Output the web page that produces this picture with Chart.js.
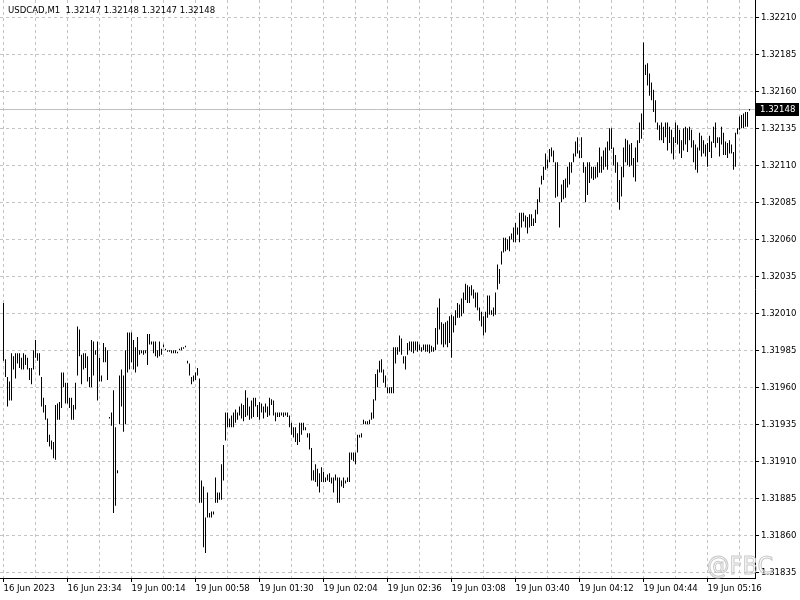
<!DOCTYPE html>
<html>
<head>
<meta charset="UTF-8">
<title>USDCAD,M1</title>
<script src="https://cdn.jsdelivr.net/npm/chart.js"></script>
<style>
  html, body { margin: 0; padding: 0; background: #fff; }
  canvas { display: block; }
</style>
</head>
<body>
<canvas id="chart" width="800" height="600"></canvas>
<script>
// header / last quote
const symbol = 'USDCAD,M1';
const headerQuote = [1.32147, 1.32148, 1.32147, 1.32148];
const lastPrice = 1.32148;

// x axis labels, one every 32 one-minute bars
const timeLabels = ['16 Jun 2023', '16 Jun 23:34', '19 Jun 00:14', '19 Jun 00:58', '19 Jun 01:30', '19 Jun 02:04',
  '19 Jun 02:36', '19 Jun 03:08', '19 Jun 03:40', '19 Jun 04:12', '19 Jun 04:44', '19 Jun 05:16'];

// price scale labels
const priceTicks = [1.31835, 1.31860, 1.31885, 1.31910, 1.31935, 1.31960, 1.31985, 1.32010,
  1.32035, 1.32060, 1.32085, 1.32110, 1.32135, 1.32160, 1.32185, 1.32210];

// bar highs
const highs = [
  1.32017,1.31979,1.31967,1.31964,1.31983,1.31981,1.31983,1.31983,1.31983,1.31980,1.31983,1.31982,1.31980,1.31973,1.31973,1.31985,
  1.31992,1.31983,1.31983,1.31967,1.31953,1.31948,1.31939,1.31928,1.31924,1.31923,1.31948,1.31949,1.31950,1.31970,1.31970,1.31963,
  1.31963,1.31953,1.31953,1.31948,1.31963,1.32001,1.31999,1.31982,1.31983,1.31983,1.31981,1.31967,1.31992,1.31991,1.31985,1.31991,
  1.31980,1.31968,1.31990,1.31987,1.31985,1.31940,1.31943,1.31958,1.31933,1.31904,1.31968,1.31972,1.31968,1.31985,1.31997,1.31997,
  1.31997,1.31992,1.31987,1.31994,1.31985,1.31985,1.31985,1.31985,1.31996,1.31996,1.31991,1.31991,1.31991,1.31985,1.31991,1.31986,
  1.31989,1.31986,1.31985,1.31985,1.31985,1.31985,1.31985,1.31984,1.31986,1.31987,1.31987,1.31988,1.31978,1.31976,1.31967,1.31968,
  1.31970,1.31973,1.31966,1.31897,1.31893,1.31872,1.31889,1.31875,1.31876,1.31876,1.31899,1.31889,1.31889,1.31908,1.31921,1.31943,
  1.31943,1.31939,1.31941,1.31943,1.31945,1.31943,1.31947,1.31949,1.31948,1.31958,1.31953,1.31947,1.31951,1.31953,1.31953,1.31948,
  1.31950,1.31949,1.31947,1.31949,1.31947,1.31953,1.31952,1.31951,1.31943,1.31943,1.31943,1.31943,1.31943,1.31943,1.31943,1.31941,
  1.31936,1.31933,1.31933,1.31929,1.31936,1.31936,1.31936,1.31933,1.31929,1.31929,1.31919,1.31904,1.31908,1.31905,1.31902,1.31906,
  1.31903,1.31899,1.31901,1.31902,1.31899,1.31899,1.31901,1.31899,1.31899,1.31897,1.31899,1.31897,1.31899,1.31916,1.31916,1.31916,
  1.31916,1.31928,1.31928,1.31929,1.31938,1.31937,1.31937,1.31938,1.31943,1.31952,1.31969,1.31972,1.31978,1.31979,1.31972,1.31968,
  1.31960,1.31960,1.31960,1.31987,1.31987,1.31987,1.31995,1.31993,1.31981,1.31981,1.31990,1.31991,1.31991,1.31991,1.31991,1.31991,
  1.31989,1.31987,1.31989,1.31989,1.31989,1.31989,1.31988,1.31987,1.32000,1.32014,1.32020,1.32004,1.32003,1.32004,1.32005,1.32008,
  1.32009,1.32008,1.32012,1.32017,1.32016,1.32020,1.32024,1.32030,1.32029,1.32028,1.32029,1.32026,1.32024,1.32024,1.32014,1.32011,
  1.32008,1.32011,1.32022,1.32022,1.32012,1.32014,1.32024,1.32043,1.32040,1.32052,1.32061,1.32061,1.32060,1.32062,1.32064,1.32068,
  1.32071,1.32068,1.32078,1.32078,1.32078,1.32076,1.32075,1.32077,1.32077,1.32074,1.32080,1.32087,1.32095,1.32103,1.32109,1.32118,
  1.32114,1.32121,1.32122,1.32120,1.32112,1.32112,1.32085,1.32097,1.32100,1.32101,1.32109,1.32112,1.32112,1.32118,1.32126,1.32129,
  1.32120,1.32129,1.32112,1.32109,1.32112,1.32112,1.32109,1.32109,1.32109,1.32112,1.32122,1.32116,1.32120,1.32122,1.32126,1.32135,
  1.32135,1.32122,1.32117,1.32112,1.32100,1.32109,1.32122,1.32128,1.32127,1.32124,1.32125,1.32115,1.32122,1.32127,1.32139,1.32145,
  1.32193,1.32178,1.32179,1.32172,1.32166,1.32161,1.32154,1.32139,1.32137,1.32139,1.32136,1.32139,1.32139,1.32136,1.32134,1.32129,
  1.32139,1.32137,1.32134,1.32127,1.32135,1.32136,1.32135,1.32136,1.32134,1.32127,1.32124,1.32122,1.32132,1.32130,1.32127,1.32124,
  1.32125,1.32130,1.32126,1.32136,1.32139,1.32129,1.32129,1.32136,1.32132,1.32126,1.32125,1.32127,1.32124,1.32119,1.32132,1.32135,
  1.32143,1.32144,1.32145,1.32146,1.32146,1.32148
];

// bar lows
const lows = [
  1.31978,1.31967,1.31947,1.31951,1.31951,1.31972,1.31966,1.31976,1.31973,1.31972,1.31972,1.31975,1.31972,1.31965,1.31962,1.31972,
  1.31980,1.31978,1.31968,1.31947,1.31943,1.31938,1.31923,1.31920,1.31918,1.31912,1.31911,1.31938,1.31938,1.31946,1.31960,1.31949,
  1.31949,1.31946,1.31938,1.31938,1.31945,1.31968,1.31981,1.31962,1.31972,1.31973,1.31964,1.31960,1.31960,1.31968,1.31982,1.31951,
  1.31964,1.31964,1.31977,1.31977,1.31965,1.31939,1.31934,1.31875,1.31880,1.31902,1.31935,1.31947,1.31930,1.31935,1.31970,1.31972,
  1.31977,1.31972,1.31970,1.31974,1.31982,1.31983,1.31982,1.31983,1.31975,1.31989,1.31989,1.31983,1.31981,1.31980,1.31981,1.31982,
  1.31987,1.31985,1.31984,1.31984,1.31983,1.31983,1.31983,1.31983,1.31985,1.31985,1.31986,1.31987,1.31976,1.31968,1.31962,1.31964,
  1.31965,1.31968,1.31882,1.31882,1.31852,1.31848,1.31872,1.31872,1.31872,1.31874,1.31882,1.31882,1.31884,1.31884,1.31897,1.31924,
  1.31933,1.31933,1.31933,1.31933,1.31936,1.31938,1.31941,1.31939,1.31937,1.31940,1.31941,1.31938,1.31939,1.31940,1.31947,1.31940,
  1.31938,1.31943,1.31939,1.31943,1.31940,1.31941,1.31948,1.31941,1.31937,1.31940,1.31940,1.31941,1.31940,1.31941,1.31940,1.31933,
  1.31928,1.31926,1.31923,1.31921,1.31923,1.31928,1.31931,1.31931,1.31926,1.31918,1.31897,1.31897,1.31896,1.31893,1.31889,1.31896,
  1.31896,1.31896,1.31897,1.31896,1.31895,1.31889,1.31897,1.31882,1.31882,1.31893,1.31892,1.31895,1.31896,1.31896,1.31911,1.31910,
  1.31908,1.31916,1.31926,1.31926,1.31935,1.31935,1.31935,1.31935,1.31938,1.31939,1.31951,1.31960,1.31970,1.31970,1.31963,1.31960,
  1.31956,1.31956,1.31956,1.31956,1.31976,1.31982,1.31984,1.31982,1.31976,1.31972,1.31982,1.31985,1.31984,1.31983,1.31985,1.31984,
  1.31985,1.31984,1.31985,1.31984,1.31984,1.31983,1.31984,1.31984,1.31985,1.31989,1.31999,1.31989,1.31987,1.31989,1.31987,1.31990,
  1.31980,1.31997,1.32002,1.32007,1.32007,1.32008,1.32010,1.32019,1.32017,1.32017,1.32022,1.32020,1.32014,1.32012,1.32005,1.32001,
  1.31995,1.31997,1.32007,1.32009,1.32009,1.32008,1.32009,1.32026,1.32030,1.32043,1.32051,1.32052,1.32053,1.32052,1.32060,1.32058,
  1.32058,1.32063,1.32058,1.32068,1.32072,1.32068,1.32064,1.32068,1.32069,1.32069,1.32071,1.32077,1.32085,1.32097,1.32100,1.32107,
  1.32108,1.32112,1.32116,1.32112,1.32088,1.32089,1.32068,1.32085,1.32087,1.32088,1.32095,1.32097,1.32105,1.32112,1.32116,1.32118,
  1.32115,1.32115,1.32105,1.32085,1.32090,1.32098,1.32101,1.32100,1.32101,1.32102,1.32105,1.32105,1.32107,1.32109,1.32107,1.32120,
  1.32121,1.32110,1.32105,1.32085,1.32080,1.32089,1.32102,1.32112,1.32110,1.32109,1.32110,1.32102,1.32099,1.32112,1.32125,1.32128,
  1.32134,1.32171,1.32164,1.32157,1.32154,1.32146,1.32139,1.32134,1.32127,1.32127,1.32125,1.32129,1.32120,1.32125,1.32118,1.32114,
  1.32125,1.32124,1.32118,1.32115,1.32120,1.32124,1.32119,1.32127,1.32122,1.32112,1.32107,1.32105,1.32120,1.32116,1.32118,1.32116,
  1.32109,1.32119,1.32115,1.32125,1.32122,1.32125,1.32116,1.32124,1.32117,1.32117,1.32115,1.32118,1.32118,1.32107,1.32109,1.32131,
  1.32134,1.32135,1.32135,1.32136,1.32136,1.32147
];

const fontFamily = '"DejaVu Sans Condensed", "Liberation Sans", sans-serif';
const gridColor = '#c4c4c4';

// current price line, price box, header and watermark
const overlay = {
  id: 'overlay',
  beforeDatasetsDraw(chart) {
    const { ctx, chartArea: a, scales: { y } } = chart;
    const py = Math.round(y.getPixelForValue(lastPrice)) + 0.5;
    ctx.save();
    ctx.strokeStyle = '#c0c0c0';
    ctx.lineWidth = 1;
    ctx.beginPath();
    ctx.moveTo(a.left, py);
    ctx.lineTo(a.right, py);
    ctx.stroke();
    ctx.restore();
  },
  afterDraw(chart) {
    const { ctx, chartArea: a, scales: { y } } = chart;
    const py = Math.round(y.getPixelForValue(lastPrice));
    ctx.save();
    ctx.fillStyle = '#000';
    ctx.fillRect(a.right + 1, py - 6, 43, 13);
    ctx.fillStyle = '#fff';
    ctx.font = '9.5px ' + fontFamily;
    ctx.textBaseline = 'middle';
    ctx.textAlign = 'left';
    ctx.fillText(lastPrice.toFixed(5), a.right + 5, py + 0.5);

    ctx.fillStyle = '#000';
    ctx.fillText(symbol + '  ' + headerQuote.map(v => v.toFixed(5)).join(' '), a.left + 8, 11);

    // broker watermark
    ctx.strokeStyle = '#c8c8c8';
    ctx.lineWidth = 1;
    ctx.font = '25px ' + fontFamily;
    ctx.textBaseline = 'alphabetic';
    ctx.strokeText('@FBC', a.right - 48, a.bottom - 4);
    ctx.restore();
  }
};

new Chart(document.getElementById('chart'), {
  type: 'bar',
  data: {
    datasets: [{
      data: highs.map((h, i) => ({ x: i, y: [lows[i], h] })),
      backgroundColor: '#000',
      borderWidth: 0,
      inflateAmount: 0,
      barThickness: 1
    }]
  },
  options: {
    responsive: false,
    animation: false,
    layout: { padding: 0 },
    plugins: { legend: { display: false }, tooltip: { enabled: false } },
    scales: {
      x: {
        type: 'linear',
        bounds: 'data',
        min: -1.75,
        max: 375.75,
        offset: false,
        afterBuildTicks: s => {
          s.ticks = [];
          for (let k = 0; k < timeLabels.length * 2; k++) s.ticks.push({ value: k * 16 });
        },
        afterFit: s => { s.height = 22; s.paddingLeft = 0; s.paddingRight = 0; },
        ticks: {
          autoSkip: false,
          maxRotation: 0,
          align: 'start',
          padding: 1,
          color: '#000',
          font: { family: fontFamily, size: 9.5 },
          callback: v => (v % 32 === 0 ? timeLabels[v / 32] : '')
        },
        grid: {
          offset: false,
          color: gridColor,
          tickLength: 4,
          tickColor: c => (c.tick && c.tick.value % 32 === 0 ? '#000' : 'rgba(0,0,0,0)')
        },
        border: { display: true, color: '#000', width: 1, dash: [3, 3] }
      },
      y: {
        type: 'linear',
        position: 'right',
        bounds: 'data',
        beginAtZero: false,
        min: 1.3183115,
        max: 1.3222169,
        afterBuildTicks: s => { s.ticks = priceTicks.map(v => ({ value: v })); },
        afterFit: s => { s.width = 45; s.paddingTop = 0; s.paddingBottom = 0; },
        ticks: {
          padding: 2,
          color: '#000',
          font: { family: fontFamily, size: 9.5 },
          callback: v => v.toFixed(5)
        },
        grid: { color: gridColor, tickLength: 4, tickColor: '#000' },
        border: { display: true, color: '#000', width: 1, dash: [3, 3] }
      }
    }
  },
  plugins: [overlay]
});
</script>
</body>
</html>
